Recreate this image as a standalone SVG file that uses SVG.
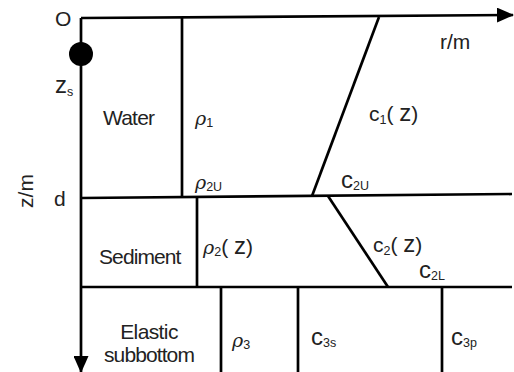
<svg xmlns="http://www.w3.org/2000/svg" width="514" height="372" viewBox="0 0 514 372">
<style>
.ln{stroke:#000;stroke-width:2.7;fill:none}
text{font-family:"Liberation Sans",Arial,sans-serif;fill:#222;font-size:21px}
.g{font-family:"DejaVu Serif","Liberation Serif",serif;font-style:italic;font-size:19px}
.sb{font-size:12.5px}
.n{font-style:normal;font-family:"Liberation Sans",Arial,sans-serif}
.bz{font-size:24px}
.bc{font-size:24px}
</style>
<defs>
<marker id="ah" markerWidth="17" markerHeight="15" refX="16" refY="7.5" orient="auto" markerUnits="userSpaceOnUse">
<path d="M0,0 L17,7.5 L0,15 Z" fill="#000"/>
</marker>
</defs>
<rect width="514" height="372" fill="#fff"/>
<g id="connectors">
<line class="ln" x1="81" y1="18" x2="513" y2="15" marker-end="url(#ah)"/>
<line class="ln" x1="81" y1="18" x2="81" y2="372" marker-end="url(#ah)"/>
<line class="ln" x1="182" y1="18" x2="182" y2="198"/>
<line class="ln" x1="379" y1="17" x2="312" y2="196"/>
<line class="ln" x1="81" y1="198" x2="512" y2="194"/>
<line class="ln" x1="328" y1="196" x2="388" y2="287"/>
<line class="ln" x1="197" y1="197" x2="197" y2="287"/>
<line class="ln" x1="81" y1="287" x2="512" y2="287"/>
<line class="ln" x1="221" y1="287" x2="221" y2="372"/>
<line class="ln" x1="298" y1="287" x2="298" y2="372"/>
<line class="ln" x1="442" y1="287" x2="442" y2="372"/>
</g>
<g id="source"><circle cx="81" cy="54" r="12" fill="#000"/></g>
<g id="axis-labels">
<text x="55" y="26" font-size="22">O</text>
<text x="55" y="93" class="bz">z<tspan class="sb" dy="3">s</tspan></text>
<text x="440" y="49">r/m</text>
<text transform="translate(33,191) rotate(-90)" text-anchor="middle">z/m</text>
<text x="54" y="206">d</text>
</g>
<g id="water">
<text x="103" y="125" font-size="21" letter-spacing="-0.8">Water</text>
<text class="g" x="195" y="125">ρ<tspan class="sb n" dy="2">1</tspan></text>
<text class="g" x="195" y="189">ρ<tspan class="sb n" dy="2">2U</tspan></text>
<text x="369" y="121" font-size="19">c<tspan class="sb" dy="3">1</tspan><tspan font-size="21" dy="-3">( </tspan><tspan class="bz">z</tspan><tspan font-size="21">)</tspan></text>
<text x="341" y="188" class="bc">c<tspan class="sb" dy="2">2U</tspan></text>
</g>
<g id="sediment">
<text x="99" y="264" letter-spacing="-0.9">Sediment</text>
<text class="g" x="203" y="254">ρ<tspan class="sb n" dy="2">2</tspan><tspan class="n" font-size="21" dy="-2">( </tspan><tspan class="n bz">z</tspan><tspan class="n" font-size="21">)</tspan></text>
<text x="373" y="252" font-size="22">c<tspan class="sb" dy="3">2</tspan><tspan font-size="21" dy="-3">( </tspan><tspan class="bz">z</tspan><tspan font-size="21">)</tspan></text>
<text x="419" y="278" class="bc">c<tspan class="sb" dy="2">2L</tspan></text>
</g>
<g id="subbottom">
<text x="149" y="339" text-anchor="middle" letter-spacing="-0.6">Elastic</text>
<text x="149" y="362" text-anchor="middle" letter-spacing="-0.9">subbottom</text>
<text class="g" x="232" y="347">ρ<tspan class="sb n" dy="2">3</tspan></text>
<text x="311" y="345" class="bc">c<tspan class="sb" dy="2">3s</tspan></text>
<text x="451" y="345" class="bc">c<tspan class="sb" dy="2">3p</tspan></text>
</g>
</svg>
